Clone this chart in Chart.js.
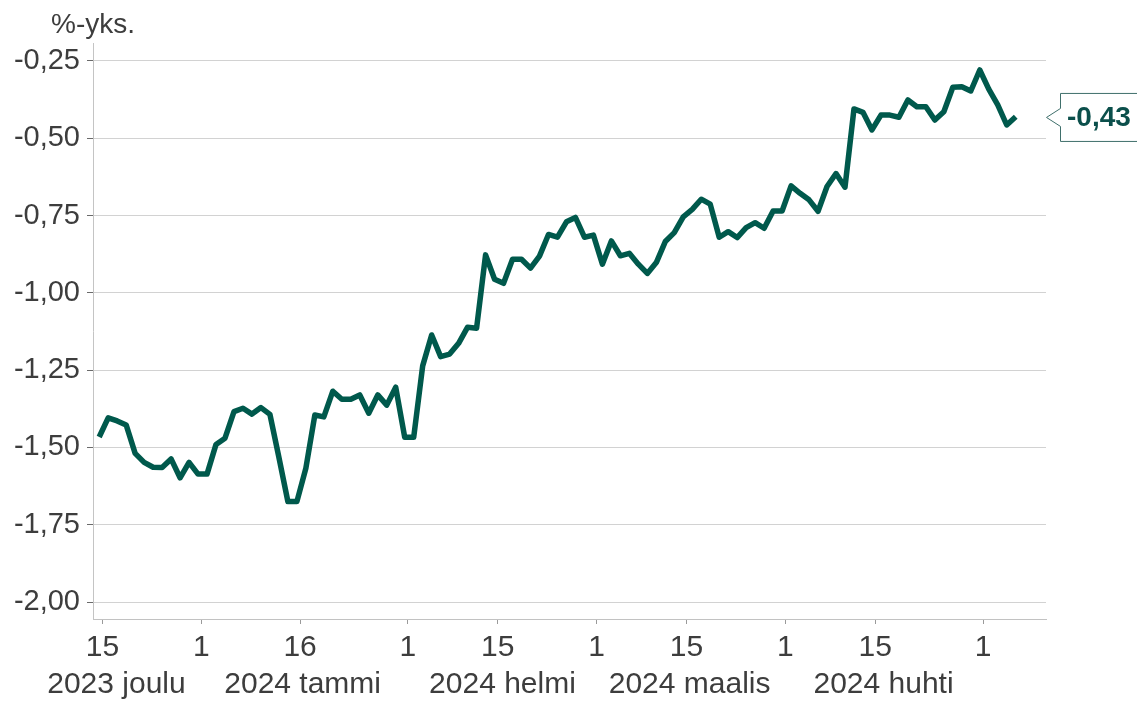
<!DOCTYPE html>
<html>
<head>
<meta charset="utf-8">
<script src="https://cdn.jsdelivr.net/npm/chart.js@4"></script>
<style>
  html, body { margin: 0; padding: 0; background: #ffffff; }
  #wrap { width: 1137px; height: 702px; }
</style>
</head>
<body>
<div id="wrap"><canvas id="c" width="1137" height="702"></canvas></div>
<script>
// Business-day series (index 0 = 15.12.2023), unit: %-yks.
const values = [
  -1.466, -1.404, -1.414, -1.427, -1.519, -1.548, -1.564, -1.565, -1.537, -1.598,
  -1.548, -1.586, -1.586, -1.490, -1.470, -1.384, -1.373, -1.392, -1.371, -1.393,
  -1.532, -1.675, -1.675, -1.567, -1.395, -1.401, -1.318, -1.344, -1.344, -1.330,
  -1.389, -1.330, -1.363, -1.305, -1.467, -1.467, -1.236, -1.136, -1.206, -1.198,
  -1.163, -1.111, -1.114, -0.877, -0.956, -0.969, -0.891, -0.891, -0.920, -0.881,
  -0.811, -0.820, -0.770, -0.756, -0.820, -0.813, -0.907, -0.832, -0.880, -0.872,
  -0.907, -0.937, -0.902, -0.834, -0.805, -0.754, -0.730, -0.697, -0.713, -0.820,
  -0.802, -0.821, -0.789, -0.773, -0.791, -0.735, -0.735, -0.654, -0.678, -0.699,
  -0.736, -0.656, -0.614, -0.658, -0.405, -0.416, -0.473, -0.425, -0.425, -0.432,
  -0.376, -0.398, -0.398, -0.441, -0.414, -0.335, -0.333, -0.347, -0.279, -0.341,
  -0.392, -0.457, -0.43
];
// Day ticks (business-day index) and their labels
const dayTickIndex = [0, 11, 22, 34, 44, 55, 65, 76, 86, 98];
const dayTickLabels = ['15', '1', '16', '1', '15', '1', '15', '1', '15', '1'];
// Month labels and where they are centred (business-day index)
const monthLabels = ['2023 joulu', '2024 tammi', '2024 helmi', '2024 maalis', '2024 huhti'];
const monthCenters = [1.56, 22.28, 44.52, 65.35, 86.93];
// Y-axis ticks
const yTicks = [-2.00, -1.75, -1.50, -1.25, -1.00, -0.75, -0.50, -0.25];
const unitLabel = '%-yks.';
const lastLabel = '-0,43';

const TICK_SHIFT = 0.36;
const FONT = '"Liberation Sans", Arial, sans-serif';
const TEXT = '#3d3d3d';
const LINE = '#00594c';

const fmt = v => v.toFixed(2).replace('.', ',');

const overlay = {
  id: 'overlay',
  afterDraw(chart) {
    const ctx = chart.ctx;
    const ys = chart.scales.y;
    ctx.save();
    // unit label
    ctx.font = '28px ' + FONT;
    ctx.fillStyle = TEXT;
    ctx.textAlign = 'left';
    ctx.textBaseline = 'alphabetic';
    ctx.fillText(unitLabel, 51, 33);
    // callout for last value
    const yv = ys.getPixelForValue(values[values.length - 1]) + 0.8;
    const tipX = chart.chartArea.right + 0.5;
    const bx = 1060.5;
    const top = yv - 24, bot = yv + 24;
    ctx.beginPath();
    ctx.moveTo(bx, top);
    ctx.lineTo(1150, top);
    ctx.lineTo(1150, bot);
    ctx.lineTo(bx, bot);
    ctx.lineTo(bx, yv + 9);
    ctx.lineTo(tipX, yv);
    ctx.lineTo(bx, yv - 9);
    ctx.closePath();
    ctx.fillStyle = '#ffffff';
    ctx.fill();
    ctx.lineWidth = 1;
    ctx.strokeStyle = '#3f6f6b';
    ctx.stroke();
    ctx.font = 'bold 28px ' + FONT;
    ctx.fillStyle = '#0b4f4b';
    ctx.textBaseline = 'middle';
    ctx.fillText(lastLabel, 1067, yv + 1);
    ctx.restore();
  }
};

new Chart(document.getElementById('c'), {
  type: 'line',
  data: {
    datasets: [{
      data: values.map((v, i) => ({ x: i, y: v })),
      borderColor: LINE,
      borderWidth: 5.5,
      pointRadius: 0,
      tension: 0,
      borderJoinStyle: 'round',
      borderCapStyle: 'butt',
      fill: false
    }]
  },
  options: {
    responsive: false,
    devicePixelRatio: 1,
    animation: false,
    layout: { padding: { top: 43, right: 91, left: 0, bottom: 0 } },
    plugins: { legend: { display: false }, tooltip: { enabled: false } },
    scales: {
      x: {
        type: 'linear',
        position: 'bottom',
        weight: 1,
        min: -0.69,
        max: 105.37,
        afterBuildTicks: s => { s.ticks = dayTickIndex.map(v => ({ value: v + TICK_SHIFT })); },
        afterFit: s => { s.height = 45; },
        ticks: {
          autoSkip: false, maxRotation: 0, minRotation: 0, padding: 6,
          color: TEXT, font: { family: FONT, size: 30 },
          callback: (v, i) => dayTickLabels[i]
        },
        grid: { drawOnChartArea: false, drawTicks: true, tickLength: 5, tickColor: '#9a9a9a' },
        border: { display: true, color: '#c2c2c2', width: 1 }
      },
      x2: {
        type: 'linear',
        position: 'bottom',
        weight: 2,
        min: -0.69,
        max: 105.37,
        afterBuildTicks: s => { s.ticks = monthCenters.map(v => ({ value: v + TICK_SHIFT })); },
        afterFit: s => { s.height = 38; },
        ticks: {
          autoSkip: false, maxRotation: 0, minRotation: 0, padding: 3,
          color: TEXT, font: { family: FONT, size: 30 },
          callback: (v, i) => monthLabels[i]
        },
        grid: { display: false, drawTicks: false, drawOnChartArea: false },
        border: { display: false }
      },
      y: {
        type: 'linear',
        position: 'left',
        min: -2.0547,
        max: -0.1918,
        afterBuildTicks: s => { s.ticks = yTicks.map(v => ({ value: v })); },
        afterFit: s => { s.width = 93; },
        ticks: {
          padding: 7, color: TEXT, font: { family: FONT, size: 29 },
          callback: v => fmt(v)
        },
        grid: { color: '#d2d2d2', lineWidth: 1, drawTicks: true, tickLength: 6, tickColor: '#6a6a6a' },
        border: { display: true, color: '#c4c4c4', width: 1 }
      }
    }
  },
  plugins: [overlay]
});
</script>
</body>
</html>
